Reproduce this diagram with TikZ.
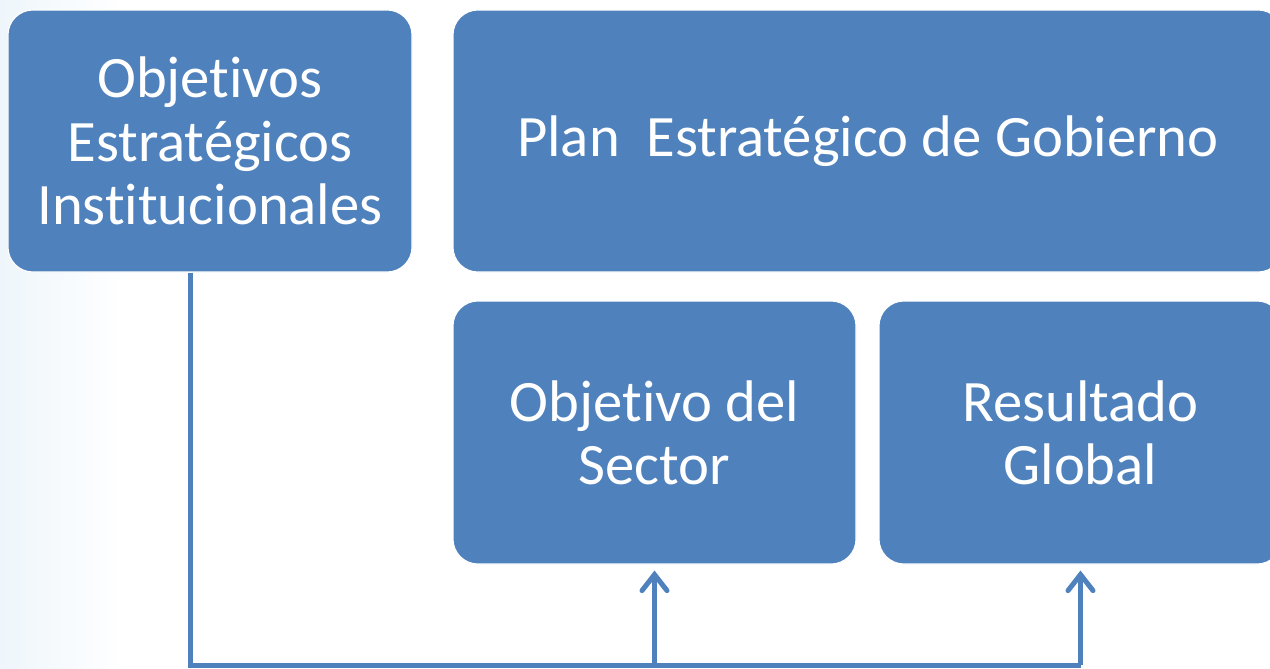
\documentclass[tikz,border=0pt]{standalone}
\usepackage{fontspec}
\setmainfont{Carlito}[RawFeature={-liga;-clig;-calt;-dlig}]
\usepackage{xcolor}
\usepackage{tikz}
\usetikzlibrary{arrows.meta, positioning}
\definecolor{boxblue}{HTML}{4F81BD}
\definecolor{paleblue}{HTML}{EEF6FB}

\begin{document}
\begin{tikzpicture}[
            box/.style={rectangle, rounded corners=0.5cm, fill=boxblue, draw=white, line width=0.6pt,
                        text=white, align=center, font=\fontsize{33.4}{36}\selectfont},
            link/.style={draw=boxblue, line width=0.1cm},
            tip/.style={-{Straight Barb[length=0.32cm, width=0.5cm, line cap=round]}, shorten >=0.12cm}
        ]

        % Background
        \useasboundingbox (0,0) rectangle (25.4,-13.36);
        \fill[white] (0,0) rectangle (25.4,-13.36);
        \shade[left color=paleblue, right color=white] (0,0) rectangle (2.5,-13.36);

        % Nodes (manual layout to match figure)
        \node[box, minimum width=8.08cm, minimum height=5.24cm] (oei) at (4.2, -2.82)
            {Objetivos\\Estratégicos\\Institucionales};
        \node[box, minimum width=16.6cm, minimum height=5.24cm] (peg) at (17.36, -2.82)
            {Plan~ Estratégico de Gobierno};
        \node[box, minimum width=8.06cm, minimum height=5.26cm] (sec) at (13.09, -8.65)
            {Objetivo del\\Sector};
        \node[box, minimum width=8.06cm, minimum height=5.26cm] (res) at (21.61, -8.65)
            {Resultado\\Global};

        \coordinate (base) at (3.8, -13.3);

        % Edges
        \draw[link] (oei.south -| base) -- (base) -- (base -| res.south);
        \draw[link, tip] (base -| sec.south) -- (sec.south);
        \draw[link, tip] (base -| res.south) -- (res.south);

    \end{tikzpicture}
\end{document}
